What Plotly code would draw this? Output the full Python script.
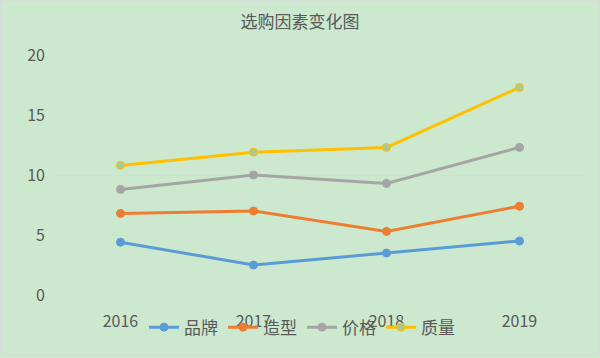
import plotly.graph_objects as go

years = ["2016", "2017", "2018", "2019"]
brand = [4.4, 2.5, 3.5, 4.5]      # 品牌
shape = [6.8, 7.0, 5.3, 7.4]      # 造型
price = [8.8, 10.0, 9.3, 12.3]    # 价格
quality = [10.8, 11.9, 12.3, 17.3]  # 质量

series_names = ["品牌", "造型", "价格", "质量"]
series_values = [brand, shape, price, quality]
line_colors = ["#5B9BD5", "#ED7D31", "#A5A5A5", "#FFC000"]
marker_fills = ["#5B9BD5", "#ED7D31", "#A5A5A5", "#A9C995"]

FONT = "Noto Sans CJK SC"
TXT = "#595959"

fig = go.Figure()
for name, vals, lc, mf in zip(series_names, series_values, line_colors, marker_fills):
    fig.add_trace(go.Scatter(
        x=years, y=vals, name=name, mode="lines+markers",
        line=dict(color=lc, width=3),
        marker=dict(size=8, color=mf, line=dict(color=lc, width=1)),
    ))

W, H = 600, 358
L, R, T, B = 54, 14, 55, 61
pw, ph = W - L - R, H - T - B

fig.update_layout(
    width=W, height=H,
    margin=dict(l=L, r=R, t=T, b=B),
    paper_bgcolor="#CCE8CF",
    plot_bgcolor="#CCE8CF",
    font=dict(family=FONT, color=TXT, size=16),
    title=dict(text="选购因素变化图", x=0.5, xanchor="center", xref="container",
               y=1 - 22 / H, yanchor="middle", yref="container",
               font=dict(family=FONT, size=17, color=TXT)),
    xaxis=dict(type="category", range=[-0.5, 3.5], showgrid=False, zeroline=False,
               showline=False, ticks="", ticklabelstandoff=15, automargin=False,
               tickfont=dict(size=16, color=TXT, family=FONT)),
    yaxis=dict(range=[0, 20], dtick=5, tick0=0, showgrid=True, gridcolor="#D9D9D9",
               gridwidth=1, zeroline=False, showline=False, ticks="",
               ticklabelstandoff=8, automargin=False,
               tickfont=dict(size=16, color=TXT, family=FONT)),
    legend=dict(orientation="h", xref="paper", yref="paper",
                x=(302 - L) / pw, xanchor="center", y=(H - B - 348) / ph, yanchor="bottom",
                bgcolor="rgba(0,0,0,0)", font=dict(size=17, color=TXT, family=FONT),
                itemwidth=30, tracegroupgap=0),
    shapes=[dict(type="rect", xref="paper", yref="paper",
                 x0=(0.5 - L) / pw, x1=(W - 0.5 - L) / pw,
                 y0=(H - B - (H - 0.5)) / ph, y1=(H - B - 0.5) / ph,
                 line=dict(color="#D9D9D9", width=1), fillcolor="rgba(0,0,0,0)",
                 layer="above")],
)

fig.write_html(
    "out.html",
    config={"displayModeBar": False},
    post_script=(
        "document.body.style.margin='0';"
        "document.body.style.overflow='hidden';"
        "document.documentElement.style.overflow='hidden';"
    ),
)
